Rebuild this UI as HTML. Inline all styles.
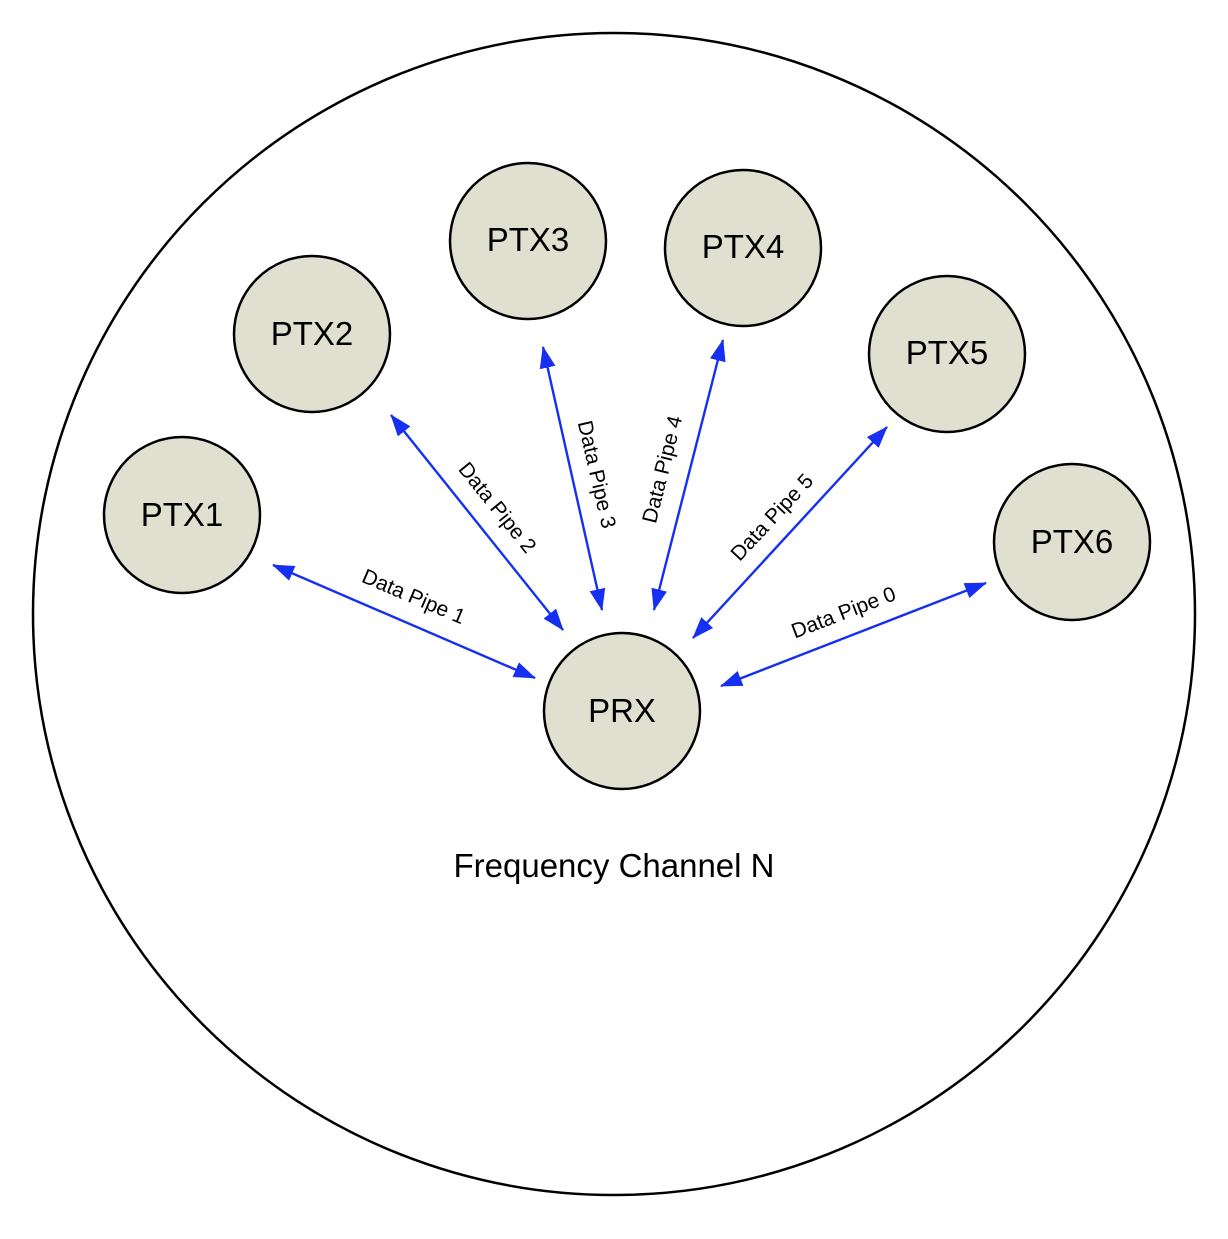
<!DOCTYPE html>
<html><head><meta charset="utf-8"><style>html,body{margin:0;padding:0;background:#fff}</style></head>
<body>
<svg width="1228" height="1234" viewBox="0 0 1228 1234" xmlns="http://www.w3.org/2000/svg" font-family="Liberation Sans, Arial, sans-serif">
<defs>
<marker id="a" viewBox="0 0 22 16" refX="21" refY="8" markerWidth="22" markerHeight="16" markerUnits="userSpaceOnUse" orient="auto-start-reverse">
<path d="M0,0 L22,8 L0,16 Z" fill="#1530f0"/>
</marker>
</defs>
<circle cx="614" cy="614" r="581" fill="none" stroke="#000" stroke-width="2.5"/>
<g stroke="#1530f0" stroke-width="2.4" marker-start="url(#a)" marker-end="url(#a)">
<line x1="273" y1="565" x2="535" y2="678"/>
<line x1="391" y1="415" x2="563" y2="630"/>
<line x1="543" y1="347" x2="602" y2="610"/>
<line x1="723" y1="340" x2="654" y2="610"/>
<line x1="887" y1="427" x2="693" y2="638"/>
<line x1="986" y1="583" x2="721" y2="686"/>
</g>
<g font-size="21" fill="#000" text-anchor="middle">
<text transform="translate(411,603) rotate(23)">Data Pipe 1</text>
<text transform="translate(492,512) rotate(51)">Data Pipe 2</text>
<text transform="translate(590,476) rotate(77)">Data Pipe 3</text>
<text transform="translate(669,471) rotate(-76)">Data Pipe 4</text>
<text transform="translate(777,522) rotate(-47)">Data Pipe 5</text>
<text transform="translate(846,619) rotate(-21)">Data Pipe 0</text>
</g>
<g fill="#dfe0cf" stroke="#000" stroke-width="2.5">
<circle cx="182" cy="515" r="78"/>
<circle cx="312" cy="334" r="78"/>
<circle cx="528" cy="241" r="78"/>
<circle cx="743" cy="248" r="78"/>
<circle cx="947" cy="354" r="78"/>
<circle cx="1072" cy="542" r="78"/>
<circle cx="622" cy="711" r="78"/>
</g>
<g font-size="33" fill="#000" text-anchor="middle">
<text x="182" y="526">PTX1</text>
<text x="312" y="345">PTX2</text>
<text x="528" y="251">PTX3</text>
<text x="743" y="258">PTX4</text>
<text x="947" y="364">PTX5</text>
<text x="1072" y="553">PTX6</text>
<text x="622" y="722">PRX</text>
<text x="614" y="877">Frequency Channel N</text>
</g>
</svg>
</body></html>
